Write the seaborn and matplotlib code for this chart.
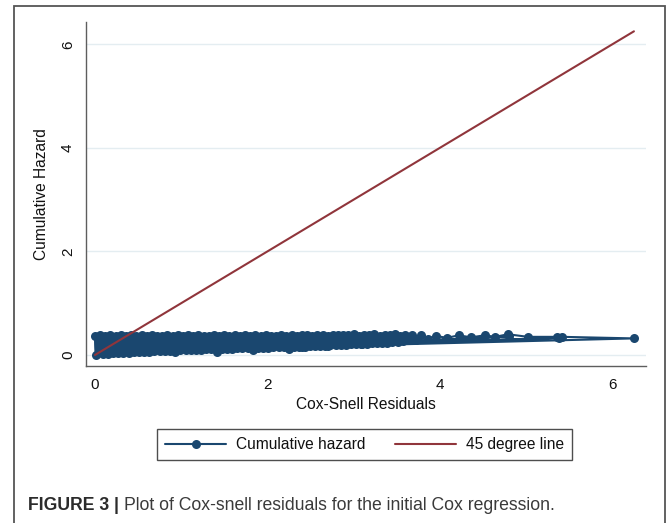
import pandas as pd
import matplotlib
matplotlib.use("Agg")
import matplotlib.pyplot as plt
import seaborn as sns
from matplotlib.patches import Rectangle

# dense band of points, upper and lower edge
band_top_x = [0.00, 0.06, 0.12, 0.18, 0.24, 0.30, 0.36, 0.42, 0.48, 0.54,
              0.60, 0.66, 0.72, 0.78, 0.84, 0.90, 0.96, 1.02, 1.08, 1.14,
              1.20, 1.26, 1.32, 1.38, 1.44, 1.50, 1.56, 1.62, 1.68, 1.74,
              1.80, 1.86, 1.92, 1.98, 2.04, 2.10, 2.16, 2.22, 2.28, 2.34,
              2.40, 2.46, 2.52, 2.58, 2.64, 2.70, 2.76, 2.82, 2.88, 2.94,
              3.00, 3.06, 3.12, 3.18, 3.24, 3.30, 3.36, 3.42, 3.48, 3.54,
              3.60]
band_top_y = [0.37, 0.38, 0.375, 0.38, 0.37, 0.38, 0.375, 0.38, 0.37, 0.38,
              0.375, 0.38, 0.37, 0.375, 0.38, 0.37, 0.38, 0.375, 0.38, 0.37,
              0.38, 0.375, 0.37, 0.38, 0.375, 0.38, 0.37, 0.38, 0.375, 0.38,
              0.37, 0.38, 0.375, 0.38, 0.37, 0.375, 0.38, 0.37, 0.38, 0.375,
              0.38, 0.385, 0.37, 0.38, 0.39, 0.375, 0.385, 0.38, 0.39, 0.38,
              0.40, 0.37, 0.39, 0.38, 0.41, 0.37, 0.39, 0.38, 0.40, 0.37,
              0.38]
band_low_x = [0.01, 0.09, 0.15, 0.21, 0.27, 0.33, 0.39, 0.45, 0.51, 0.57,
              0.63, 0.69, 0.75, 0.81, 0.87, 0.93, 0.99, 1.05, 1.11, 1.17,
              1.23, 1.29, 1.35, 1.41, 1.47, 1.53, 1.59, 1.65, 1.71, 1.77,
              1.83, 1.89, 1.95, 2.01, 2.07, 2.13, 2.19, 2.25, 2.31, 2.37,
              2.43, 2.49, 2.55, 2.61, 2.67, 2.73, 2.79, 2.85, 2.91, 2.97,
              3.03, 3.09, 3.15, 3.21, 3.27, 3.33, 3.39, 3.45, 3.51, 3.57,
              3.63]
band_low_y = [0.00, 0.01, 0.02, 0.03, 0.035, 0.04, 0.045, 0.05, 0.055, 0.06,
              0.065, 0.07, 0.075, 0.08, 0.085, 0.05, 0.09, 0.095, 0.10, 0.10,
              0.105, 0.11, 0.11, 0.06, 0.115, 0.12, 0.12, 0.125, 0.125, 0.13,
              0.09, 0.135, 0.14, 0.14, 0.145, 0.15, 0.15, 0.11, 0.155, 0.16,
              0.16, 0.165, 0.17, 0.175, 0.18, 0.185, 0.19, 0.195, 0.20, 0.205,
              0.21, 0.215, 0.22, 0.225, 0.23, 0.235, 0.24, 0.25, 0.26, 0.27,
              0.28]
# sparse points to the right of the band, in plotting order
tail_x = [3.68, 3.72, 3.78, 3.86, 3.95, 4.08, 4.22, 4.36, 4.52, 4.64,
          4.79, 5.02, 5.36, 5.42, 6.25, 2.70, 5.38, 3.10, 4.80, 2.40]
tail_y = [0.39, 0.29, 0.38, 0.31, 0.37, 0.33, 0.38, 0.34, 0.38, 0.35,
          0.40, 0.35, 0.35, 0.35, 0.32, 0.17, 0.33, 0.22, 0.36, 0.16]
# 45 degree reference line
diag_x = [0.0, 6.25]
diag_y = [0.0, 6.25]

x_ticks = [0, 2, 4, 6]
y_ticks = [0, 2, 4, 6]

navy = "#1a476f"
maroon = "#90353b"

# path order: up/down through the band, then the tail
haz_x, haz_y = [], []
for tx, ty, lx, ly in zip(band_top_x, band_top_y, band_low_x, band_low_y):
    haz_x += [tx, lx]
    haz_y += [ty, ly]
haz_x += tail_x
haz_y += tail_y
haz = pd.DataFrame({"resid": haz_x, "cumhaz": haz_y})

sns.set_style("white")
plt.rcParams['font.family'] = ['Liberation Sans', 'DejaVu Sans']

W, H = 669, 523
fig = plt.figure(figsize=(W / 100, H / 100), dpi=100)
ax = fig.add_axes([86 / W, 1 - 366 / H, 560 / W, 344 / H])

# overplotted points merge into a solid band
ax.fill(band_top_x + band_low_x[::-1], band_top_y + band_low_y[::-1],
        color=navy, lw=1.5, ec=navy)
sns.lineplot(data=haz, x="resid", y="cumhaz", sort=False, estimator=None,
             color=navy, lw=1.5, marker="o", markersize=6.5,
             markeredgewidth=0, markeredgecolor=navy,
             label="Cumulative hazard", ax=ax)
sns.lineplot(x=diag_x, y=diag_y, sort=False, estimator=None,
             color=maroon, lw=1.5, label="45 degree line", ax=ax)

ax.set_xlim(-0.104, 6.39)
ax.set_ylim(-0.213, 6.43)
ax.set_xticks(x_ticks)
ax.set_yticks(y_ticks)
ax.grid(axis="y", color="#e4edf1", lw=1.0)
ax.grid(axis="x", visible=False)
ax.set_axisbelow(True)
sns.despine(ax=ax)
for s in ["left", "bottom"]:
    ax.spines[s].set_color("#5e5e5e")
    ax.spines[s].set_linewidth(1.0)
ax.tick_params(direction="out", length=4.5, width=1, color="#5e5e5e",
               labelsize=11, labelcolor="#111111")
ax.tick_params(axis="x", pad=4)
ax.tick_params(axis="y", pad=3.5)
for lab in ax.get_yticklabels():
    lab.set_rotation(90)
    lab.set_va("center")

ax.set_xlabel("Cox-Snell Residuals", fontsize=11.2, color="#111111")
ax.set_ylabel("Cumulative Hazard", fontsize=11.2, color="#111111")
ax.xaxis.label.set_va("center")
ax.yaxis.label.set_va("center")
ax.xaxis.set_label_coords(0.5, -0.113)
ax.yaxis.set_label_coords(-0.0786, 0.5)

leg = ax.legend(loc="center", bbox_to_anchor=(364.5 / W, 1 - 444.5 / H),
                bbox_transform=fig.transFigure, ncol=2, frameon=True,
                fancybox=False, edgecolor="#222222", fontsize=11.2,
                handlelength=3.9, handletextpad=0.65, columnspacing=1.9,
                borderpad=0.5, borderaxespad=0)
leg.get_frame().set_linewidth(1.0)
for t in leg.get_texts():
    t.set_color("#111111")

# caption under the chart
t1 = fig.text(28 / W, 1 - 505 / H, "FIGURE 3 |", fontsize=12.7,
              weight="bold", va="center", color="#2b2b2b")
fig.canvas.draw()
bb = t1.get_window_extent()
fig.text((bb.x1 + 5) / W, 1 - 505 / H,
         "Plot of Cox-snell residuals for the initial Cox regression.",
         fontsize=12.7, va="center", color="#3a3a3a")

# outer frame of the figure panel
fig.add_artist(Rectangle((14 / W, -0.05), (665 - 14) / W, 1 - 6 / H + 0.05,
                         transform=fig.transFigure, fill=False,
                         ec="#555555", lw=1.3, clip_on=False))

fig.savefig("out.png", dpi=100)
